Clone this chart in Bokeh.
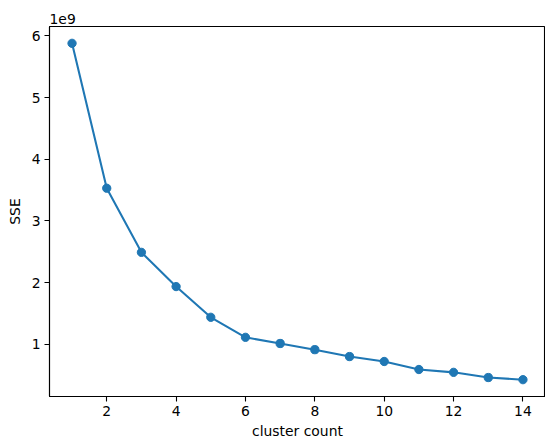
from bokeh.plotting import figure
from bokeh.models import FixedTicker, CustomJSTickFormatter, Range1d
from bokeh.embed import file_html
from bokeh.resources import INLINE

cluster_count = [1, 2, 3, 4, 5, 6, 7, 8, 9, 10, 11, 12, 13, 14]
sse = [5.88e9, 3.53e9, 2.49e9, 1.935e9, 1.437e9, 1.112e9, 1.012e9,
       0.912e9, 0.80e9, 0.72e9, 0.59e9, 0.544e9, 0.46e9, 0.425e9]
x_ticks = [2, 4, 6, 8, 10, 12, 14]
y_ticks = [1e9, 2e9, 3e9, 4e9, 5e9, 6e9]

BLUE = "#1f77b4"
FONT = "DejaVu Sans"
FS = "13.9px"

xpad = (max(cluster_count) - min(cluster_count)) * 0.05
ypad = (max(sse) - min(sse)) * 0.05

p = figure(output_backend="svg", toolbar_location=None,
           frame_width=496, frame_height=370,
           min_border_left=49, min_border_top=26, min_border_right=0, min_border_bottom=35,
           x_range=Range1d(min(cluster_count) - xpad, max(cluster_count) + xpad),
           y_range=Range1d(min(sse) - ypad, max(sse) + ypad))

p.title.text = "1e9"
p.title.align = "left"
p.title.text_font = FONT
p.title.text_font_size = FS
p.title.text_font_style = "normal"
p.title.text_color = "black"
p.title.standoff = 6
p.title.offset = 0

p.line(cluster_count, sse, line_color=BLUE, line_width=2.08)
p.scatter(cluster_count, sse, size=8.3, fill_color=BLUE, line_color=BLUE)

p.xgrid.visible = False
p.ygrid.visible = False
p.outline_line_color = "black"
p.outline_line_width = 1.1
p.outline_line_alpha = 1

for ax in (p.xaxis[0], p.yaxis[0]):
    ax.axis_line_color = "black"
    ax.axis_line_width = 1.1
    ax.major_tick_line_color = "black"
    ax.major_tick_line_width = 1.1
    ax.major_tick_in = 0
    ax.major_tick_out = 5
    ax.minor_tick_line_color = None
    ax.major_label_text_font = FONT
    ax.major_label_text_font_size = FS
    ax.major_label_text_color = "black"
    ax.axis_label_text_font = FONT
    ax.axis_label_text_font_size = FS
    ax.axis_label_text_font_style = "normal"
    ax.axis_label_text_color = "black"
    ax.major_label_standoff = 4

p.xaxis[0].ticker = FixedTicker(ticks=x_ticks)
p.yaxis[0].ticker = FixedTicker(ticks=y_ticks)
p.yaxis[0].formatter = CustomJSTickFormatter(code="return String(Math.round(tick/1e9*100)/100);")
p.xaxis[0].axis_label = "cluster count"
p.yaxis[0].axis_label = "SSE"
p.xaxis[0].axis_label_standoff = 4
p.yaxis[0].axis_label_standoff = 6

open("out.html", "w").write(file_html(p, INLINE))
